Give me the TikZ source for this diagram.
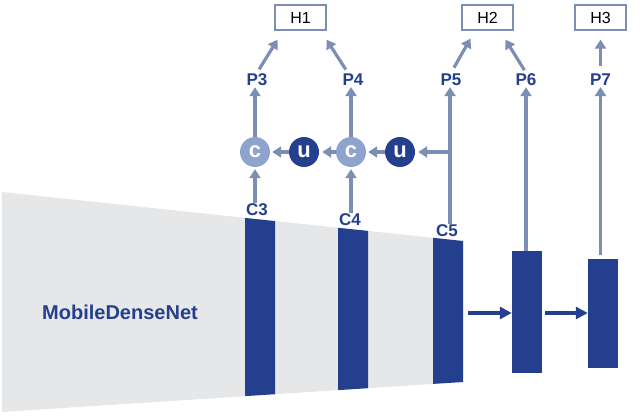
\documentclass[tikz,border=0pt]{standalone}
\usepackage{fontspec}
\setmainfont{Liberation Sans}
\usetikzlibrary{arrows.meta,calc}
\definecolor{navy}{HTML}{243F8E}
\definecolor{steel}{HTML}{7A8FB3}
\definecolor{lightc}{HTML}{8EA4CF}
\definecolor{greyfill}{HTML}{E6E7E8}
\begin{document}
\begin{tikzpicture}[x=1pt,y=-1pt,
  lbl/.style={text=navy,font=\fontsize{17}{17}\selectfont\bfseries,inner sep=1pt},
  hbox/.style={draw=steel,line width=1.3pt,minimum width=51pt,minimum height=25pt,inner sep=0pt,font=\fontsize{16}{16}\selectfont},
  cnode/.style={circle,fill=lightc,minimum size=30pt,inner sep=0pt,text=white,font=\fontsize{22}{22}\selectfont\bfseries},
  unode/.style={circle,fill=navy,minimum size=30pt,inner sep=0pt,text=white,font=\fontsize{22}{22}\selectfont\bfseries},
  bar/.style={fill=navy,minimum width=30pt,inner sep=0pt},
  conn/.style={draw=steel,line width=3.2pt,-{Triangle[length=9pt,width=11pt]}},
  darr/.style={draw=navy,line width=3.2pt,-{Triangle[length=12pt,width=12pt]}}]
\useasboundingbox (0,0) rectangle (640,417);
% backbone trapezoid
\fill[greyfill] (2,192) -- (463,241) -- (463,382) -- (2,412) -- cycle;
% backbone stages
\fill[navy] (245,217.9) -- (275,221.1) -- (275,394.2) -- (245,396.1) -- cycle;
\fill[navy] (338,227.8) -- (368,230.9) -- (368,388.2) -- (338,390.1) -- cycle;
\fill[navy] (433,237.8) -- (463,241) -- (463,382) -- (433,383.9) -- cycle;
\node[text=navy,font=\fontsize{20}{20}\selectfont\bfseries] (MDN) at (120,312) {MobileDenseNet};
% extra stages
\node[bar,minimum height=122pt] (B6) at (527,312) {};
\node[bar,minimum height=109pt] (B7) at (603,313.5) {};
\coordinate (C5r) at (468,313);
\draw[darr] (C5r) -- (C5r -| B6.west);
\draw[darr] (C5r -| B6.east) ++(3,0) -- (C5r -| B7.west);
% labels
\node[lbl] (C3) at (257,210) {C3};
\node[lbl] (C4) at (350,220) {C4};
\node[lbl] (C5) at (447,231) {C5};
\node[lbl] (P3) at (257,80) {P3};
\node[lbl] (P4) at (353,80) {P4};
\node[lbl] (P5) at (451,80) {P5};
\node[lbl] (P6) at (526,80) {P6};
\node[lbl] (P7) at (600.5,80) {P7};
% circles
\node[cnode] (c1) at (255,152) {c};
\node[unode] (u1) at (304,152) {u};
\node[cnode] (c2) at (351,152) {c};
\node[unode] (u2) at (400,152) {u};
% heads
\node[hbox] (H1) at (300.5,17.5) {H1};
\node[hbox] (H2) at (487.5,17.5) {H2};
\node[hbox] (H3) at (600.5,17.5) {H3};
% connectors
\draw[conn] (C3.north -| c1) -- ([yshift=-2pt]c1.south);
\draw[conn] (C4.north -| c2) -- ([yshift=-2pt]c2.south);
\draw[conn] (c1.north) -- (P3.south -| c1);
\draw[conn] (c2.north) -- (P4.south -| c2);
\coordinate (J) at (450,152);
\draw[steel,line width=3.2pt] (C5.north -| J) -- (J);
\draw[conn] (J) -- (P5.south -| J);
\draw[conn] (J) -- ([xshift=3pt]u2.east);
\draw[conn] (u2.west) -- ([xshift=2pt]c2.east);
\draw[conn] (c2.west) -- ([xshift=3pt]u1.east);
\draw[conn] (u1.west) -- ([xshift=2pt]c1.east);
\draw[conn] (B6.north -| P6) -- (P6.south);
\draw[conn] (B7.north -| P7) ++(0,-4) -- (P7.south);
\draw[conn,shorten <=4pt] (P3.north) -- ($(H1.south)+(-23,9)$);
\draw[conn,shorten <=4pt] ($(P4.north)+(-5,0)$) -- ($(H1.south)+(26,9)$);
\draw[conn,shorten <=6pt] (P5.north) -- ($(H2.south)+(-17,8)$);
\draw[conn,shorten <=3pt] (P6.north) -- ($(H2.south)+(18,9)$);
\draw[conn,shorten <=7pt,shorten >=9pt] (P7.north) -- (H3.south);
\end{tikzpicture}
\end{document}
